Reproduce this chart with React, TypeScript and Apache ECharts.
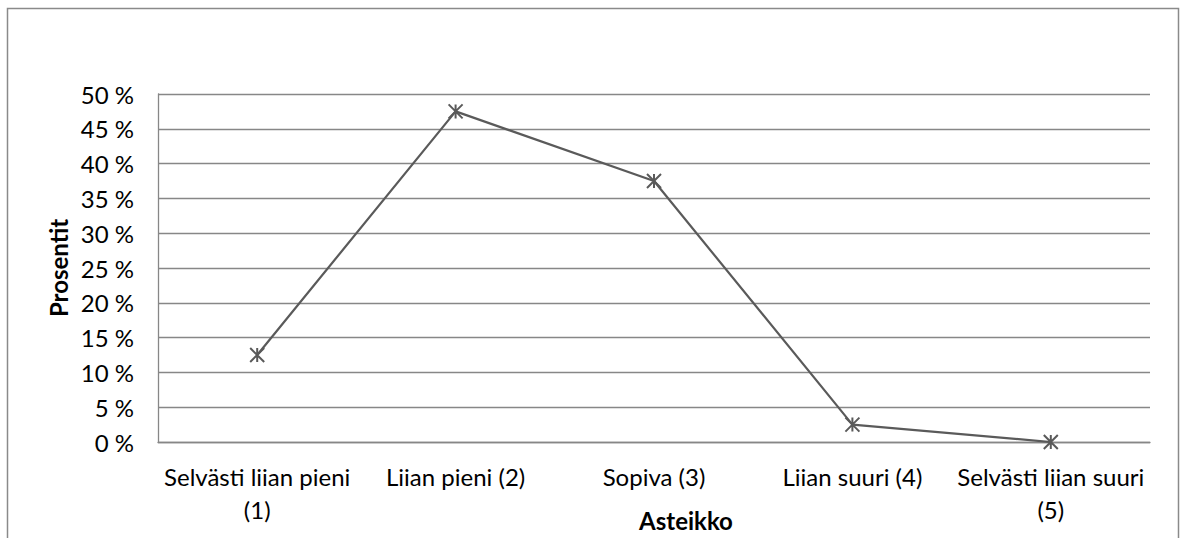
import React, { useEffect, useRef } from "react";
import * as echarts from "echarts";

// Scale categories (answers 1–5) and share of respondents in percent
const categories = [
  "Selvästi liian pieni\n(1)",
  "Liian pieni (2)",
  "Sopiva (3)",
  "Liian suuri (4)",
  "Selvästi liian suuri\n(5)",
];
const percentages = [12.5, 47.5, 37.5, 2.5, 0];
const yTicks = { min: 0, max: 50, step: 5 };

const FONT = "Lato, 'Open Sans', sans-serif";
const GRID_GRAY = "#878787";
const LINE_GRAY = "#5a5a5a";

export default function App() {
  const ref = useRef<HTMLDivElement>(null);

  useEffect(() => {
    document.body.style.margin = "0";
    if (!ref.current) return;
    const chart = echarts.init(ref.current, undefined, { renderer: "svg" });
    chart.setOption({
      animation: false,
      backgroundColor: "#ffffff",
      textStyle: { fontFamily: FONT },
      grid: {
        left: 158,
        right: 31,
        top: 94,
        bottom: 96,
        containLabel: false,
        outerBoundsMode: "none",
      },
      graphic: [
        {
          type: "rect",
          shape: { x: 7.5, y: 8.5, width: 1171, height: 560 },
          style: { fill: "none", stroke: "#8a8a8a", lineWidth: 1.5 },
          silent: true,
        },
      ],
      xAxis: {
        type: "category",
        data: categories,
        boundaryGap: true,
        name: "Asteikko",
        nameLocation: "middle",
        nameGap: 66,
        nameMoveOverlap: false,
        nameTextStyle: {
          fontFamily: FONT,
          fontSize: 24,
          fontWeight: "bold",
          color: "#000",
          padding: [0, 0, 0, 64],
        },
        axisLine: { show: true, lineStyle: { color: GRID_GRAY, width: 1.3 } },
        axisTick: { show: false },
        axisLabel: {
          interval: 0,
          margin: 18,
          fontFamily: FONT,
          fontSize: 24,
          lineHeight: 33,
          color: "#000",
          align: "center",
        },
        splitLine: { show: false },
      },
      yAxis: {
        type: "value",
        min: yTicks.min,
        max: yTicks.max,
        interval: yTicks.step,
        name: "Prosentit",
        nameLocation: "middle",
        nameGap: 88,
        nameMoveOverlap: false,
        nameTextStyle: {
          fontFamily: FONT,
          fontSize: 24,
          fontWeight: "bold",
          color: "#000",
        },
        axisLine: { show: true, lineStyle: { color: GRID_GRAY, width: 1.3 } },
        axisTick: { show: false },
        axisLabel: {
          margin: 24,
          fontFamily: FONT,
          fontSize: 24,
          color: "#000",
          formatter: (v: number) => `${Math.round(v)} %`,
        },
        splitLine: { show: true, lineStyle: { color: GRID_GRAY, width: 1.3 } },
      },
      series: [
        {
          type: "line",
          data: percentages,
          symbol: "path://M0,0L10,10M10,0L0,10M5,0L5,10",
          symbolSize: 14,
          showSymbol: true,
          lineStyle: { color: LINE_GRAY, width: 2.2 },
          itemStyle: {
            color: "transparent",
            borderColor: LINE_GRAY,
            borderWidth: 2,
          },
          z: 3,
        },
      ],
    });
    return () => chart.dispose();
  }, []);

  return <div ref={ref} style={{ width: 1181, height: 538 }} />;
}
